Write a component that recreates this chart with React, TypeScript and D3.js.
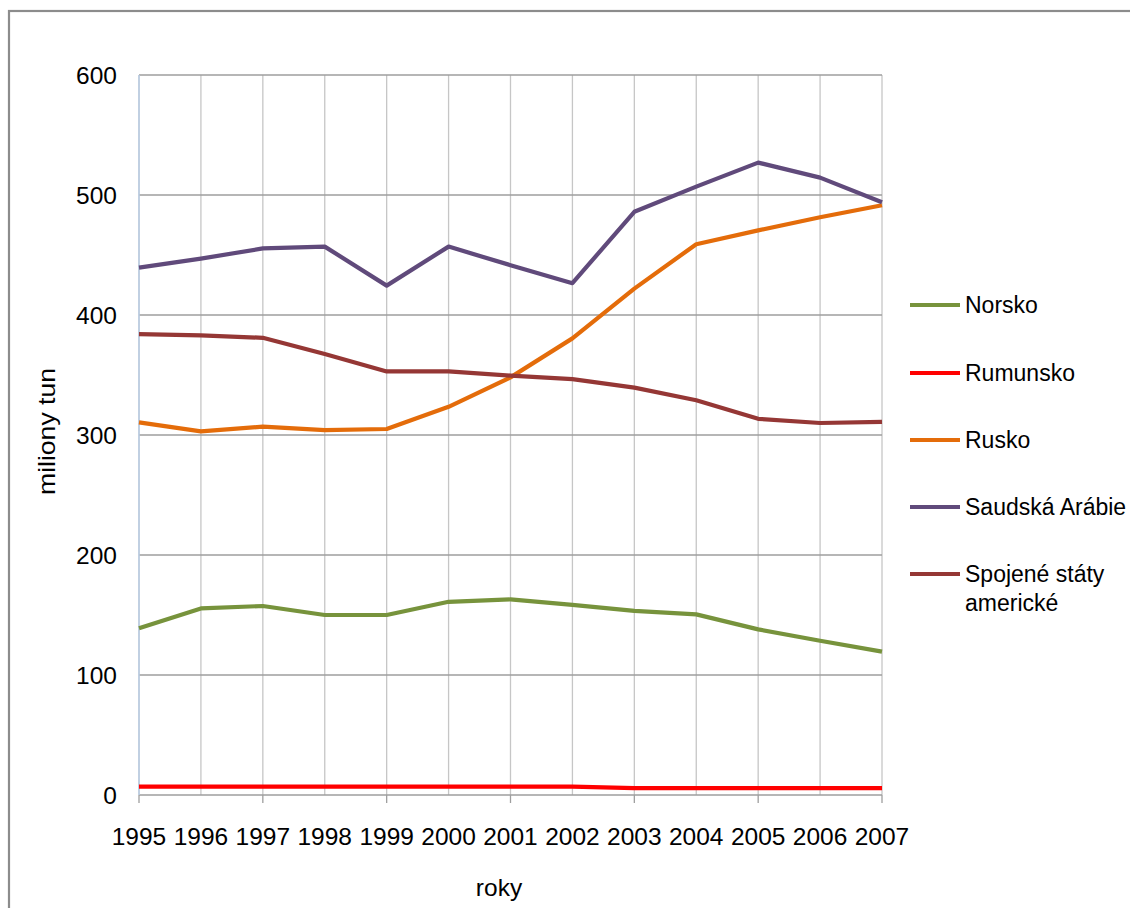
import React from "react";
import * as d3 from "d3";

const years = [1995, 1996, 1997, 1998, 1999, 2000, 2001, 2002, 2003, 2004, 2005, 2006, 2007];
const norsko = [139, 155.5, 157.5, 150, 150, 161, 163, 158.5, 153.5, 150.5, 138, 128.5, 119.5];
const rumunsko = [6.9, 6.9, 6.9, 6.9, 6.9, 6.9, 6.9, 6.9, 5.8, 5.8, 5.8, 5.8, 5.8];
const rusko = [310.5, 303, 307, 304, 305, 323.5, 348, 380.5, 422, 459, 470.5, 481.5, 491.5];
const saudska = [439.5, 447, 455.5, 457, 424.5, 457, 441.5, 426.5, 486, 507, 527, 514.5, 494];
const usa = [384, 383, 381, 367.5, 353, 353, 349.5, 346.5, 339.5, 329, 313.5, 310, 311];
const yTicks = [0, 100, 200, 300, 400, 500, 600];

const seriesNames = ["Norsko", "Rumunsko", "Rusko", "Saudská Arábie", "Spojené státy americké"];
const seriesColors = ["#77933c", "#ff0000", "#e46c0a", "#604a7b", "#953735"];
const seriesValues = [norsko, rumunsko, rusko, saudska, usa];

export default function App() {
  const x = d3.scaleLinear().domain([1995, 2007]).range([139, 882]);
  const y = d3.scaleLinear().domain([0, 600]).range([795, 75]);
  const line = d3
    .line<number>()
    .x((_, i) => x(years[i]))
    .y((d) => y(d));

  const font = "'Liberation Sans', Arial, sans-serif";
  const legendY = [305, 373, 440, 507, 574];

  return (
    <svg
      width={1130}
      height={908}
      style={{ position: "absolute", left: 0, top: 0 }}
      fontFamily={font}
    >
      <rect x={0} y={0} width={1130} height={908} fill="#fff" />
      <rect x={9} y={11} width={1200} height={1000} fill="#fff" stroke="#8c8c8c" strokeWidth={2.2} />

      {/* vertical gridlines */}
      {years.map((yr) => (
        <line key={"v" + yr} x1={x(yr)} x2={x(yr)} y1={y(600)} y2={y(0)} stroke="#c6c6c6" strokeWidth={1.3} />
      ))}
      {/* horizontal gridlines */}
      {yTicks.map((t) => (
        <line key={"h" + t} x1={x(1995)} x2={x(2007)} y1={y(t)} y2={y(t)} stroke="#9e9e9e" strokeWidth={1.3} />
      ))}
      {/* y axis */}
      <line x1={x(1995)} x2={x(1995)} y1={y(600)} y2={y(0)} stroke="#b8cce4" strokeWidth={1.5} />
      {/* x tick marks */}
      {years
        .filter((yr) => (yr - 1995) % 2 === 0)
        .map((yr) => (
          <line key={"t" + yr} x1={x(yr)} x2={x(yr)} y1={y(0)} y2={y(0) + 8} stroke="#9e9e9e" strokeWidth={1.3} />
        ))}

      {/* series */}
      {seriesValues.map((vals, i) => (
        <path
          key={seriesNames[i]}
          d={line(vals) || ""}
          fill="none"
          stroke={seriesColors[i]}
          strokeWidth={4.2}
          strokeLinejoin="round"
        />
      ))}

      {/* y labels */}
      {yTicks.map((t) => (
        <text key={"yl" + t} x={117} y={y(t)} dy="0.36em" textAnchor="end" fontSize={24.5} fill="#000">
          {t}
        </text>
      ))}
      {/* x labels */}
      {years.map((yr) => (
        <text key={"xl" + yr} x={x(yr)} y={845} textAnchor="middle" fontSize={24.5} fill="#000">
          {yr}
        </text>
      ))}

      <text x={499} y={896} textAnchor="middle" fontSize={24.5} fill="#000">
        roky
      </text>
      <text
        transform={`translate(46, 431.5) rotate(-90)`}
        textAnchor="middle"
        dy="0.36em"
        fontSize={24}
        textLength={127}
        lengthAdjust="spacingAndGlyphs"
        fill="#000"
      >
        miliony tun
      </text>

      {/* legend */}
      {seriesNames.map((n, i) => (
        <g key={"lg" + n}>
          <line x1={910} x2={960} y1={legendY[i]} y2={legendY[i]} stroke={seriesColors[i]} strokeWidth={4} />
          {i < 4 ? (
            <text x={965} y={legendY[i]} dy="0.36em" fontSize={23} fill="#000">
              {n}
            </text>
          ) : (
            <text x={965} y={legendY[i]} dy="0.36em" fontSize={23} fill="#000">
              <tspan x={965}>Spojené státy</tspan>
              <tspan x={965} dy={29}>americké</tspan>
            </text>
          )}
        </g>
      ))}
    </svg>
  );
}
